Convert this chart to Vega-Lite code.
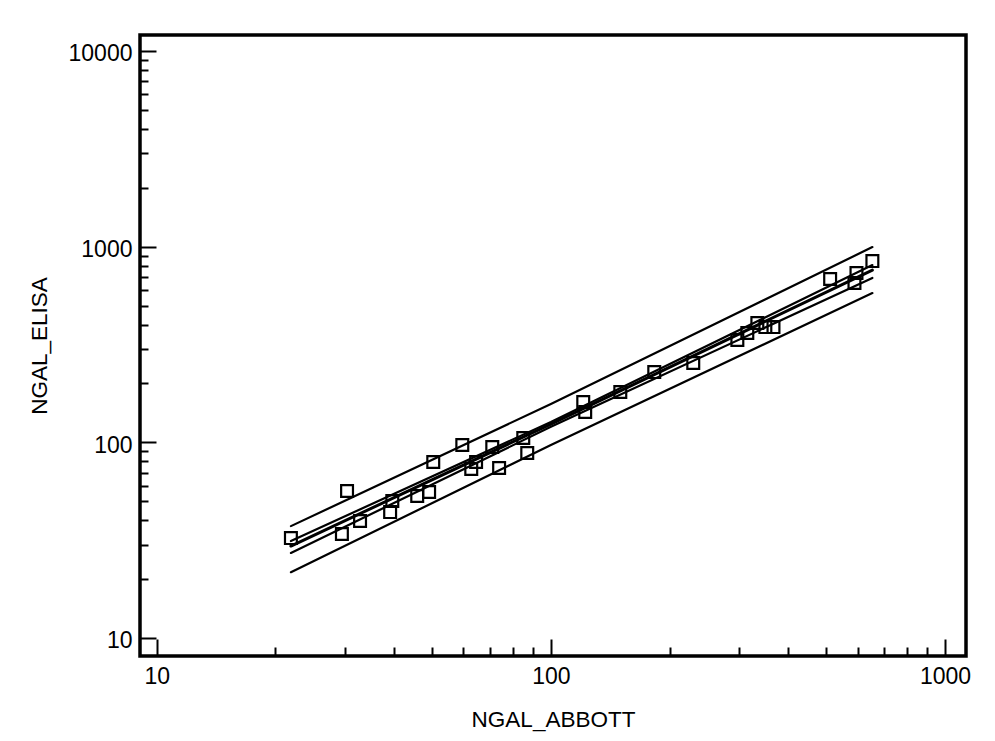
{
  "$schema": "https://vega.github.io/schema/vega-lite/v6.json",
  "width": 826,
  "height": 621,
  "autosize": {"type": "none"},
  "padding": {"left": 140, "top": 35, "right": 29, "bottom": 85},
  "background": "white",
  "datasets": {
    "points": [
      {"abbott": 21.9, "elisa": 32.4},
      {"abbott": 30.4, "elisa": 56.4},
      {"abbott": 29.5, "elisa": 34.0},
      {"abbott": 32.8, "elisa": 39.6},
      {"abbott": 39.1, "elisa": 44.0},
      {"abbott": 39.6, "elisa": 50.1},
      {"abbott": 45.8, "elisa": 53.2},
      {"abbott": 49.1, "elisa": 55.7},
      {"abbott": 50.3, "elisa": 79.3},
      {"abbott": 59.6, "elisa": 96.9},
      {"abbott": 62.8, "elisa": 73.1},
      {"abbott": 64.6, "elisa": 79.3},
      {"abbott": 71.0, "elisa": 94.6},
      {"abbott": 73.9, "elisa": 73.9},
      {"abbott": 85.1, "elisa": 105.2},
      {"abbott": 87.1, "elisa": 88.2},
      {"abbott": 120.8, "elisa": 160.7},
      {"abbott": 122.2, "elisa": 142.8},
      {"abbott": 150.0, "elisa": 180.7},
      {"abbott": 182.9, "elisa": 228.6},
      {"abbott": 229.7, "elisa": 254.3},
      {"abbott": 297.2, "elisa": 333.3},
      {"abbott": 315.0, "elisa": 361.8},
      {"abbott": 334.0, "elisa": 407.0},
      {"abbott": 350.0, "elisa": 388.0},
      {"abbott": 367.0, "elisa": 388.0},
      {"abbott": 511.0, "elisa": 683.0},
      {"abbott": 589.0, "elisa": 652.0},
      {"abbott": 596.0, "elisa": 733.0},
      {"abbott": 654.0, "elisa": 844.0}
    ],
    "lines": [
      {"series": "pred_upper", "kind": "band", "x": 21.9, "y": 37.3},
      {"series": "pred_upper", "kind": "band", "x": 100, "y": 157},
      {"series": "pred_upper", "kind": "band", "x": 654, "y": 995},
      {"series": "conf_upper", "kind": "band", "x": 21.9, "y": 31.3},
      {"series": "conf_upper", "kind": "band", "x": 100, "y": 127},
      {"series": "conf_upper", "kind": "band", "x": 654, "y": 805},
      {"series": "regression", "kind": "reg", "x": 21.9, "y": 29.5},
      {"series": "regression", "kind": "reg", "x": 100, "y": 124},
      {"series": "regression", "kind": "reg", "x": 654, "y": 759},
      {"series": "conf_lower", "kind": "band", "x": 21.9, "y": 27.2},
      {"series": "conf_lower", "kind": "band", "x": 100, "y": 120},
      {"series": "conf_lower", "kind": "band", "x": 654, "y": 692},
      {"series": "pred_lower", "kind": "band", "x": 21.9, "y": 21.7},
      {"series": "pred_lower", "kind": "band", "x": 100, "y": 96.8},
      {"series": "pred_lower", "kind": "band", "x": 654, "y": 579}
    ]
  },
  "layer": [
    {
      "data": {"name": "lines"},
      "mark": {"type": "line", "color": "black", "strokeCap": "round"},
      "encoding": {
        "x": {
          "field": "x", "type": "quantitative", "title": "NGAL_ABBOTT",
          "scale": {"type": "log", "domain": [9.07, 1130], "nice": false},
          "axis": {
            "values": [10, 20, 30, 40, 50, 60, 70, 80, 90, 100, 200, 300, 400, 500, 600, 700, 800, 900, 1000],
            "labelExpr": "indexof([10,100,1000], datum.value) >= 0 ? format(datum.value, 'd') : ''",
            "labelOverlap": false,
            "tickSize": {"condition": {"test": "indexof([10,100,1000], datum.value) >= 0", "value": -17}, "value": -9},
            "labelPadding": 26,
            "titlePadding": 12
          }
        },
        "y": {
          "field": "y", "type": "quantitative", "title": "NGAL_ELISA",
          "scale": {"type": "log", "domain": [8.09, 12070], "nice": false},
          "axis": {
            "values": [10, 20, 30, 40, 50, 60, 70, 80, 90, 100, 200, 300, 400, 500, 600, 700, 800, 900, 1000, 2000, 3000, 4000, 5000, 6000, 7000, 8000, 9000, 10000],
            "labelExpr": "indexof([10,100,1000,10000], datum.value) >= 0 ? format(datum.value, 'd') : ''",
            "labelOverlap": false,
            "tickSize": {"condition": {"test": "indexof([10,100,1000,10000], datum.value) >= 0", "value": -16}, "value": -8},
            "labelPadding": 24,
            "labelOffset": 3,
            "titlePadding": 17
          }
        },
        "detail": {"field": "series"},
        "strokeWidth": {"field": "kind", "type": "nominal", "scale": {"domain": ["reg", "band"], "range": [3, 2.2]}, "legend": null}
      }
    },
    {
      "data": {"name": "points"},
      "mark": {"type": "point", "shape": "square", "filled": false, "color": "black", "strokeWidth": 2.2, "size": 140, "opacity": 1},
      "encoding": {
        "x": {"field": "abbott", "type": "quantitative"},
        "y": {"field": "elisa", "type": "quantitative"}
      }
    }
  ],
  "config": {
    "view": {"stroke": "black", "strokeWidth": 3.5},
    "axis": {
      "domain": false,
      "grid": false,
      "labelFont": "Liberation Sans",
      "labelFontSize": 23,
      "labelColor": "black",
      "titleFont": "Liberation Sans",
      "titleFontSize": 22.5,
      "titleFontWeight": "normal",
      "titleColor": "black",
      "tickColor": "black",
      "tickWidth": 2
    }
  }
}
